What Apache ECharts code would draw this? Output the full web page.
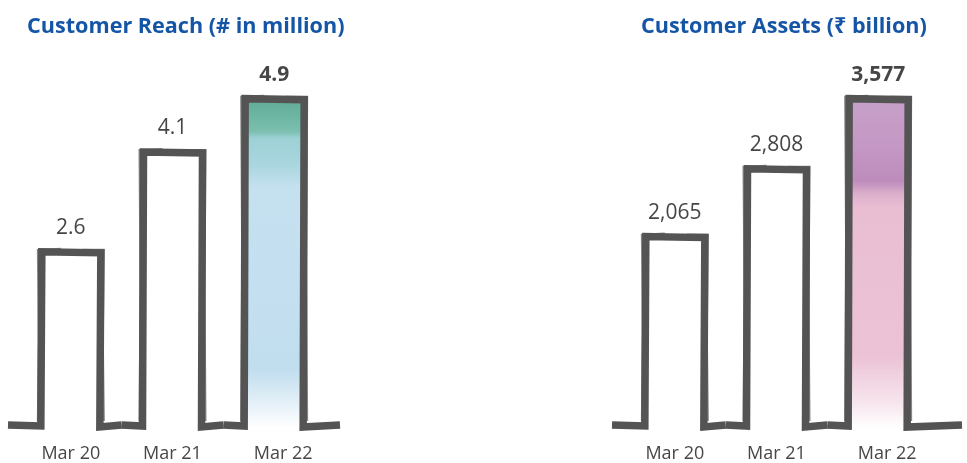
<!DOCTYPE html>
<html>
<head>
<meta charset="utf-8">
<script src="https://cdn.jsdelivr.net/npm/echarts@6/dist/echarts.min.js"></script>
<style>
  html, body { margin: 0; padding: 0; background: #ffffff; }
  #chart { width: 967px; height: 463px; }
</style>
</head>
<body>
<div id="chart"></div>
<script>
// Fiscal year-end periods shared by both panels
const periods = ['Mar 20', 'Mar 21', 'Mar 22'];
// Customer reach, # in million
const reachValues = [2.6, 4.1, 4.9];
// Customer assets, ₹ billion
const assetValues = [2065, 2808, 3577];
const reachTitle = 'Customer Reach (# in million)';
const assetTitle = 'Customer Assets (₹ billion)';

const FONT = '"Open Sans", "Noto Sans", sans-serif';
const INK = '#545454';

// Watercolour washes for the latest year's bar
const reachWash = new echarts.graphic.LinearGradient(0, 0, 0, 1, [
  { offset: 0.00, color: '#62ab98' },
  { offset: 0.06, color: '#6fb7a5' },
  { offset: 0.10, color: '#7cbfb0' },
  { offset: 0.12, color: '#9dd1d5' },
  { offset: 0.20, color: '#a9d6df' },
  { offset: 0.27, color: '#c5e1f0' },
  { offset: 0.60, color: '#c4e0f0' },
  { offset: 0.82, color: '#c0ddee' },
  { offset: 0.93, color: '#e6f1f8' },
  { offset: 1.00, color: '#ffffff' }
]);
const assetWash = new echarts.graphic.LinearGradient(0, 0, 0, 1, [
  { offset: 0.00, color: '#c7a1c9' },
  { offset: 0.15, color: '#c497c4' },
  { offset: 0.25, color: '#bd8cbc' },
  { offset: 0.29, color: '#dcb0cc' },
  { offset: 0.33, color: '#e9bed3' },
  { offset: 0.78, color: '#ebc2d6' },
  { offset: 0.93, color: '#f7e7ef' },
  { offset: 1.00, color: '#ffffff' }
]);

// Hand-drawn step outline: baseline -> up the bar -> across the top -> down -> baseline
function sketchBars(wash, fmt, extendLeft, extendRight) {
  return function (params, api) {
    const i = params.dataIndex;
    const last = params.dataInsideLength - 1;
    const val = api.value(1);
    const top = api.coord([api.value(0), val]);
    const base = api.coord([api.value(0), 0]);
    const band = api.size([1, 0])[0];
    const half = 30;
    const cx = top[0];
    const x0 = cx - half, x1 = cx + half;
    const yT = top[1], yB = base[1];
    const bL = cx - band / 2 - (i === 0 ? extendLeft : 0);
    const bR = cx + band / 2 + (i === last ? extendRight : 0);
    const highlight = i === last;
    const children = [];
    if (highlight) {
      children.push({
        type: 'rect',
        shape: { x: x0, y: yT, width: x1 - x0, height: yB - yT + 3 },
        style: { fill: wash }
      });
    }
    const pts = [[bL, yB], [x0, yB + 1], [x0 + 1, yT], [x1, yT + 1], [x1 - 1, yB + 2], [bR, yB]];
    children.push({
      type: 'polyline',
      shape: { points: pts },
      style: { stroke: INK, lineWidth: 7.5, fill: null, lineJoin: 'miter', lineCap: 'butt' }
    });
    // rough dry-brush edges along the bar sides
    children.push({
      type: 'polyline',
      shape: { points: [[x0 - 3, yB - 4], [x0 - 2, (yT + yB) / 2], [x0 - 3, yT - 2], [x0 + 20, yT - 3]] },
      style: { stroke: INK, lineWidth: 2, fill: null, opacity: 0.7 }
    });
    children.push({
      type: 'polyline',
      shape: { points: [[x1 - 18, yT - 2], [x1 + 3, yT - 2], [x1 + 2, (yT + yB) / 2], [x1 + 3, yB - 4]] },
      style: { stroke: INK, lineWidth: 2, fill: null, opacity: 0.7 }
    });
    children.push({
      type: 'text',
      style: {
        text: fmt(val),
        x: cx,
        y: yT - 13,
        align: 'center',
        verticalAlign: 'bottom',
        fontFamily: FONT,
        fontSize: 21,
        fontWeight: highlight ? 'bold' : 'normal',
        fill: '#464646'
      }
    });
    return { type: 'group', children: children };
  };
}

const axisLabel = {
  interval: 0,
  hideOverlap: false,
  fontFamily: FONT,
  fontSize: 18,
  color: '#474747',
  margin: 20,
  formatter: function (v, idx) { return idx === 2 ? '{s|' + v + '}' : v; },
  rich: { s: { fontFamily: FONT, fontSize: 18, color: '#474747', padding: [0, 0, 0, 18] } }
};

const chart = echarts.init(document.getElementById('chart'), null, { renderer: 'canvas' });
chart.setOption({
  backgroundColor: '#ffffff',
  animation: false,
  title: [
    { text: reachTitle, left: 22, top: 11,
      textStyle: { fontFamily: FONT, fontSize: 21.6, fontWeight: 'bold', color: '#1555a6' } },
    { text: assetTitle, left: 636, top: 11,
      textStyle: { fontFamily: FONT, fontSize: 21.6, fontWeight: 'bold', color: '#1555a6' } }
  ],
  grid: [
    { left: 20, top: 92, width: 305, height: 335 },
    { left: 624, top: 92, width: 305, height: 335 }
  ],
  xAxis: [
    { gridIndex: 0, type: 'category', data: periods, axisLine: { show: false }, axisTick: { show: false }, axisLabel: axisLabel },
    { gridIndex: 1, type: 'category', data: periods, axisLine: { show: false }, axisTick: { show: false }, axisLabel: axisLabel }
  ],
  yAxis: [
    { gridIndex: 0, type: 'value', min: 0, max: 5, show: false },
    { gridIndex: 1, type: 'value', min: 0, max: 3650, show: false }
  ],
  series: [
    {
      type: 'custom', xAxisIndex: 0, yAxisIndex: 0,
      renderItem: sketchBars(reachWash, function (v) { return v.toFixed(1); }, 12, 15),
      encode: { x: 0, y: 1 },
      data: reachValues.map(function (v, i) { return [i, v]; })
    },
    {
      type: 'custom', xAxisIndex: 1, yAxisIndex: 1,
      renderItem: sketchBars(assetWash, function (v) { return v.toLocaleString('en-US'); }, 12, 33),
      encode: { x: 0, y: 1 },
      data: assetValues.map(function (v, i) { return [i, v]; })
    }
  ]
});
</script>
</body>
</html>
